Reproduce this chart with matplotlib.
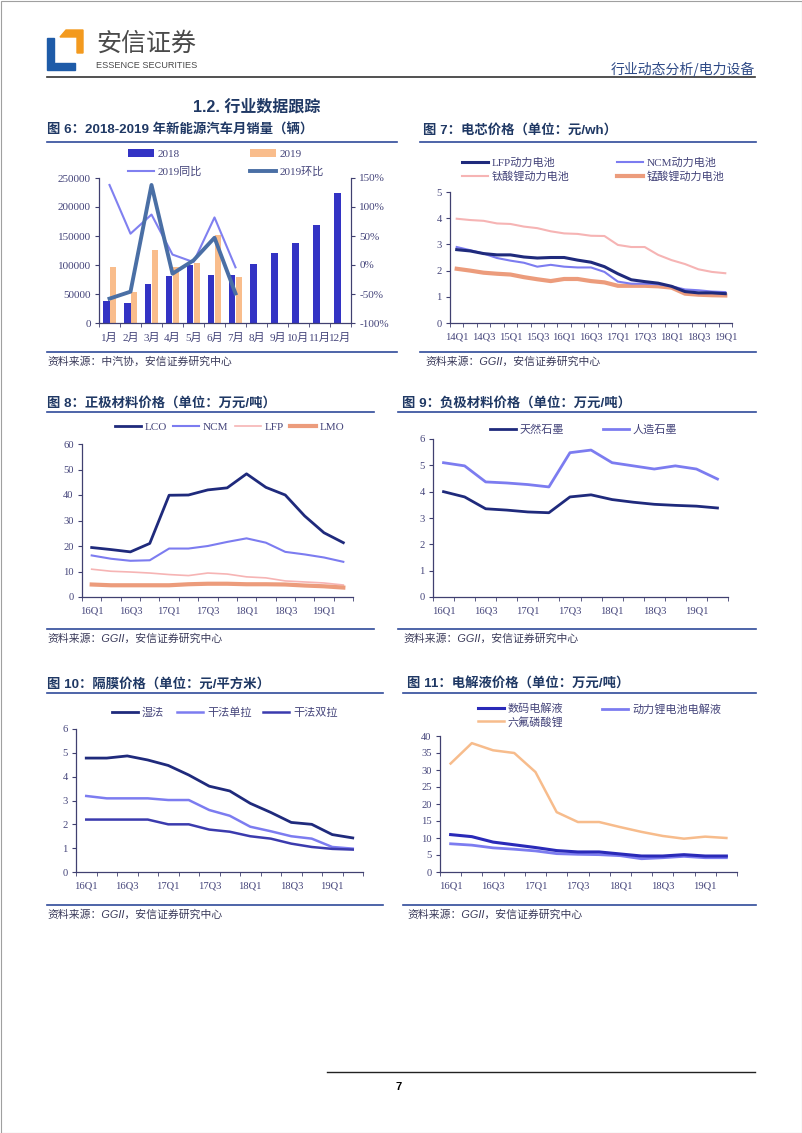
import numpy as np
import matplotlib.pyplot as plt
from matplotlib.patches import Polygon, Rectangle

plt.rcParams['font.family'] = ['Liberation Serif', 'Noto Sans CJK SC']
plt.rcParams['axes.unicode_minus'] = False

W, H = 802, 1133

# ---- 图6 data ----
months = ['1月', '2月', '3月', '4月', '5月', '6月', '7月', '8月', '9月', '10月', '11月', '12月']
sales_2018 = [37500, 34500, 67000, 81000, 100500, 83000, 83000, 101500, 120500, 138000, 169500, 224500]
sales_2019 = [96500, 53000, 126500, 96500, 103500, 151500, 79000]
yoy_2019 = [138, 54, 87, 18, 5, 82, -4]
mom_2019 = [-58, -46, 138, -15, 8, 47, -49]

# ---- 图7 data ----
q14 = ['14Q1', '14Q2', '14Q3', '14Q4', '15Q1', '15Q2', '15Q3', '15Q4', '16Q1', '16Q2', '16Q3',
       '16Q4', '17Q1', '17Q2', '17Q3', '17Q4', '18Q1', '18Q2', '18Q3', '18Q4', '19Q1']
cell_lfp = [2.8, 2.75, 2.65, 2.6, 2.6, 2.52, 2.48, 2.5, 2.5, 2.4, 2.32, 2.15, 1.88, 1.65,
            1.58, 1.52, 1.4, 1.2, 1.15, 1.15, 1.12]
cell_ncm = [2.9, 2.78, 2.65, 2.48, 2.38, 2.3, 2.15, 2.22, 2.15, 2.12, 2.12, 1.95, 1.58, 1.5,
            1.5, 1.48, 1.4, 1.28, 1.25, 1.2, 1.18]
cell_lto = [3.98, 3.93, 3.9, 3.8, 3.78, 3.68, 3.62, 3.5, 3.42, 3.4, 3.33, 3.32, 2.98, 2.9,
            2.9, 2.6, 2.4, 2.25, 2.05, 1.95, 1.9]
cell_lmo = [2.07, 2.0, 1.92, 1.88, 1.85, 1.75, 1.67, 1.6, 1.68, 1.68, 1.6, 1.55, 1.42, 1.42,
            1.42, 1.4, 1.35, 1.12, 1.08, 1.06, 1.05]

# ---- 图8-11 data ----
q16 = ['16Q1', '16Q2', '16Q3', '16Q4', '17Q1', '17Q2', '17Q3', '17Q4', '18Q1', '18Q2',
       '18Q3', '18Q4', '19Q1', '19Q2']
cat_lco = [19.4, 18.6, 17.7, 21, 39.9, 40, 42, 42.8, 48.3, 43, 40, 31.8, 25.2, 21.3]
cat_ncm = [16.3, 15, 14.2, 14.4, 19, 19, 20, 21.6, 23, 21.3, 17.7, 16.7, 15.5, 13.8]
cat_lfp = [10.9, 10.1, 9.8, 9.4, 8.8, 8.4, 9.4, 9, 7.9, 7.5, 6.3, 5.9, 5.5, 4.7]
cat_lmo = [4.9, 4.6, 4.6, 4.6, 4.6, 5, 5.2, 5.2, 5, 5, 4.9, 4.5, 4.2, 3.7]

natural_graphite = [4.0, 3.8, 3.35, 3.3, 3.23, 3.2, 3.8, 3.88, 3.7, 3.6, 3.52, 3.48, 3.45, 3.38]
artificial_graphite = [5.1, 4.98, 4.37, 4.33, 4.27, 4.18, 5.48, 5.58, 5.1, 4.98, 4.86, 4.98, 4.86, 4.48]

sep_wet = [4.78, 4.78, 4.87, 4.7, 4.47, 4.07, 3.6, 3.4, 2.88, 2.5, 2.08, 2.0, 1.57, 1.43]
sep_dry_uni = [3.19, 3.09, 3.09, 3.09, 3.02, 3.02, 2.6, 2.36, 1.9, 1.71, 1.5, 1.4, 1.05, 0.98]
sep_dry_bi = [2.2, 2.2, 2.2, 2.2, 2.0, 2.0, 1.78, 1.69, 1.5, 1.4, 1.19, 1.05, 0.97, 0.94]

ele_digital = [11, 10.4, 8.8, 8, 7.2, 6.3, 5.9, 5.9, 5.3, 4.7, 4.7, 5.1, 4.7, 4.7]
ele_power = [8.3, 7.9, 7.1, 6.7, 6.2, 5.4, 5.2, 5.1, 4.8, 3.9, 4.2, 4.6, 4.2, 4.2]
lipf6 = [31.9, 37.9, 35.8, 35, 29.4, 17.6, 14.7, 14.7, 13.2, 11.8, 10.6, 9.8, 10.4, 10]

navy = '#1F2A7C'
lilac = '#7C7CF0'
pink = '#F6B4B4'
salmon = '#EC9C7C'
title_c = '#1F3864'
line_c = '#2F4A9A'
axis_c = '#404070'
tick_c = '#44447A'
src_c = '#3A3A5A'

fig = plt.figure(figsize=(W / 100, H / 100), dpi=100)
page = fig.add_axes([0, 0, 1, 1])
page.set_xlim(0, W)
page.set_ylim(H, 0)
page.axis('off')

# header
page.add_patch(Rectangle((0.5, 0.5), W - 1, H - 1, fill=False, ec='#a0a0a0', lw=0.8))
page.add_patch(Polygon([(60, 37), (66, 30), (83, 30), (83, 53), (77, 53), (77, 37)], color='#F39A1E'))
page.add_patch(Polygon([(47, 38), (54, 38), (54, 63), (75, 63), (75, 70), (47, 70)], color='#1E5BA8'))
page.text(96, 44, '安信证券', fontsize=18, color='#4A4A4A', va='center', family=['Noto Sans CJK SC'])
page.text(96, 66, 'ESSENCE SECURITIES', fontsize=6.6, color='#4A4A4A', va='center',
          family=['Liberation Sans Narrow', 'Liberation Sans'])
page.text(755, 69, '行业动态分析/电力设备', fontsize=10, color='#2E4A86', ha='right', va='center',
          family=['Noto Sans CJK SC'])
page.plot([47, 755], [77, 77], color='#333333', lw=1.2)
page.text(257, 107, '1.2. 行业数据跟踪', fontsize=11.5, color=title_c, ha='center', va='center',
          weight='bold', family=['Liberation Sans', 'Noto Sans CJK SC'])

# footer
page.plot([327, 755], [1072, 1072], color='#222222', lw=1)
page.text(399, 1087, '7', fontsize=8, ha='center', va='center', weight='bold',
          family=['Liberation Sans'])


def block(x0, x1, ty, ly, sy, title, src, tx=None, sx=None):
    page.text(tx if tx else x0, ty, title, fontsize=9.6, color=title_c, weight='bold', va='center',
              family=['Liberation Sans', 'Noto Sans CJK SC'])
    page.plot([x0, x1], [ly, ly], color=line_c, lw=1.2)
    page.plot([x0, x1], [sy, sy], color=line_c, lw=1.2)
    page.text(sx if sx else x0, sy + 10, src, fontsize=7.8, color=src_c, va='center', style='italic',
              family=['Liberation Sans', 'Noto Sans CJK SC'])


src_ggii = '资料来源：GGII，安信证券研究中心'
block(47, 397, 130, 142, 352, '图 6：2018-2019 年新能源汽车月销量（辆）', '资料来源：中汽协，安信证券研究中心')
block(420, 756, 130, 142, 352, '图 7：电芯价格（单位：元/wh）', src_ggii, tx=423, sx=425)
block(47, 374, 403, 412, 629, '图 8：正极材料价格（单位：万元/吨）', src_ggii)
block(398, 756, 403, 412, 629, '图 9：负极材料价格（单位：万元/吨）', src_ggii, tx=402, sx=403)
block(47, 383, 684, 693, 905, '图 10：隔膜价格（单位：元/平方米）', src_ggii)
block(403, 756, 684, 693, 905, '图 11：电解液价格（单位：万元/吨）', src_ggii, tx=407, sx=407)


def add_ax(x0, y0, x1, y1):
    return fig.add_axes([x0 / W, 1 - y1 / H, (x1 - x0) / W, (y1 - y0) / H])


def style(ax, n, labels, every=2, fs=7.6):
    for s in ['top', 'right']:
        ax.spines[s].set_visible(False)
    for s in ['left', 'bottom']:
        ax.spines[s].set_color(axis_c)
        ax.spines[s].set_linewidth(0.9)
    ax.set_xlim(-0.5, n - 0.5)
    ax.set_xticks(range(n))
    ax.set_xticklabels([lab if i % every == 0 else '' for i, lab in enumerate(labels)])
    ax.set_xticks(np.arange(-0.5, n), minor=True)
    ax.tick_params(axis='x', which='major', length=0, pad=7, labelsize=fs, labelcolor=tick_c)
    ax.tick_params(axis='x', which='minor', length=3, color=axis_c)
    ax.tick_params(axis='y', length=3, color=axis_c, pad=3, labelsize=fs, labelcolor=tick_c)


def leg(handles, labels, x, y, spacing=0.3, fs=8):
    fig.legend(handles, labels, loc='center left', bbox_to_anchor=(x / W, 1 - y / H),
               frameon=False, fontsize=fs, handlelength=2.3, handletextpad=0.4,
               labelspacing=spacing, borderpad=0, borderaxespad=0, labelcolor=tick_c)


# 图6
ax = add_ax(99, 178, 351, 323)
x = np.arange(len(months))
b18 = ax.bar(x - 0.15, sales_2018, width=0.3, color='#3333C4')
b19 = ax.bar(x[:len(sales_2019)] + 0.15, sales_2019, width=0.3, color='#F9BD8C')
style(ax, len(months), months, every=1, fs=8)
ax.spines['right'].set_visible(True)
ax.spines['right'].set_color(axis_c)
ax.set_ylim(0, 250000)
ax.set_yticks(range(0, 250001, 50000))
ax2 = ax.twinx()
l_yoy, = ax2.plot(x[:len(yoy_2019)], yoy_2019, color='#8080F0', lw=1.5)
l_mom, = ax2.plot(x[:len(mom_2019)], mom_2019, color='#4A6FA5', lw=2.8)
ax2.set_ylim(-100, 150)
ax2.set_yticks(range(-100, 151, 50))
ax2.set_yticklabels([f'{v}%' for v in range(-100, 151, 50)])
for s in ['top', 'left', 'bottom']:
    ax2.spines[s].set_visible(False)
ax2.spines['right'].set_color(axis_c)
ax2.tick_params(axis='y', length=3, color=axis_c, pad=3, labelsize=8, labelcolor=tick_c)
leg([b18, l_yoy], ['2018', '2019同比'], 128, 163, spacing=0.75)
leg([b19, l_mom], ['2019', '2019环比'], 250, 163, spacing=0.75)

# 图7
ax = add_ax(450, 192, 732, 323)
n = len(q14)
l1, = ax.plot(range(n), cell_lto, color=pink, lw=1.5)
l2, = ax.plot(range(n), cell_lmo, color=salmon, lw=3)
l3, = ax.plot(range(n), cell_ncm, color=lilac, lw=1.5)
l4, = ax.plot(range(n), cell_lfp, color=navy, lw=2.2)
style(ax, n, q14)
ax.set_ylim(0, 5)
ax.set_yticks(range(0, 6))
leg([l4, l1], ['LFP动力电池', '钛酸锂动力电池'], 462, 170, spacing=0.3)
leg([l3, l2], ['NCM动力电池', '锰酸锂动力电池'], 617, 170, spacing=0.3)

# 图8
ax = add_ax(82, 444, 353, 597)
n = len(q16)
la, = ax.plot(range(n), cat_lco, color=navy, lw=2)
lb, = ax.plot(range(n), cat_ncm, color=lilac, lw=1.5)
lc, = ax.plot(range(n), cat_lfp, color=pink, lw=1.2)
ld, = ax.plot(range(n), cat_lmo, color=salmon, lw=3)
style(ax, n, q16)
ax.set_ylim(0, 60)
ax.set_yticks(range(0, 61, 10))
for h, lab, xx in zip([la, lb, lc, ld], ['LCO', 'NCM', 'LFP', 'LMO'], [115, 173, 235, 290]):
    leg([h], [lab], xx, 427)

# 图9
ax = add_ax(433, 439, 728, 597)
ln, = ax.plot(range(n), natural_graphite, color=navy, lw=2)
lar, = ax.plot(range(n), artificial_graphite, color=lilac, lw=2)
style(ax, n, q16)
ax.set_ylim(0, 6)
ax.set_yticks(range(0, 7))
leg([ln], ['天然石墨'], 490, 430)
leg([lar], ['人造石墨'], 603, 430)

# 图10
ax = add_ax(76, 729, 363, 872)
lw_, = ax.plot(range(n), sep_wet, color=navy, lw=2)
lu, = ax.plot(range(n), sep_dry_uni, color=lilac, lw=1.8)
lbi, = ax.plot(range(n), sep_dry_bi, color='#3B3BAE', lw=1.8)
style(ax, n, q16)
ax.set_ylim(0, 6)
ax.set_yticks(range(0, 7))
leg([lw_], ['湿法'], 112, 713)
leg([lu], ['干法单拉'], 177, 713)
leg([lbi], ['干法双拉'], 263, 713)

# 图11
ax = add_ax(440, 736, 737, 872)
lf, = ax.plot(range(n), lipf6, color='#F7BC8C', lw=1.8)
lp, = ax.plot(range(n), ele_power, color=lilac, lw=2)
ldg, = ax.plot(range(n), ele_digital, color='#2A2AB8', lw=2.2)
style(ax, n, q16)
ax.set_ylim(0, 40)
ax.set_yticks(range(0, 41, 5))
leg([ldg, lf], ['数码电解液', '六氟磷酸锂'], 478, 715.5, spacing=0.2)
leg([lp], ['动力锂电池电解液'], 602, 709)

fig.savefig('out.png', dpi=100)
